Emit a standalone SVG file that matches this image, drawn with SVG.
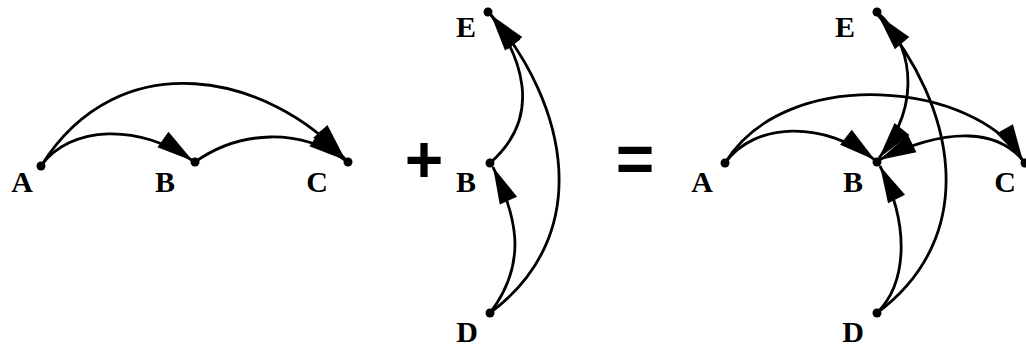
<svg xmlns="http://www.w3.org/2000/svg" width="1026" height="349" viewBox="0 0 1026 349">
<style>
.dot{fill:#000}
.lbl{font-family:"Liberation Serif","Times New Roman",serif;font-weight:bold;font-size:30px;fill:#000;text-anchor:middle}
.op{font-family:"Liberation Sans",Arial,sans-serif;font-weight:bold;font-size:66px;fill:#000;text-anchor:middle}
.edge{fill:none;stroke:#000;stroke-width:2.8;marker-end:url(#arr)}
</style>
<defs>
<marker id="arr" markerUnits="userSpaceOnUse" viewBox="-40 -12 44 24" refX="0" refY="0" markerWidth="44" markerHeight="24" orient="auto">
<path d="M0,0 L-37,-9.5 L-37,9.5 z" fill="#000"/>
</marker>
</defs>
<rect width="1026" height="349" fill="#fff"/>
<g id="connectors">
<path class="edge" d="M41,166 C70,125 140,123 193,161"/>
<path class="edge" d="M41,166 C120,40 270,75 345,159"/>
<path class="edge" d="M195,162 C240,130 300,128 345,160"/>
<path class="edge" d="M490,163 C545,115 520,55 491,15"/>
<path class="edge" d="M490,313 C530,260 515,215 493,167"/>
<path class="edge" d="M490,313 C595,235 568,105 491,15"/>
<path class="edge" d="M725,163 C754,122 824,120 875,160"/>
<path class="edge" d="M725,163 C786,63 978,82 1023,161"/>
<path class="edge" d="M1025,163 C1000,130 950,125 879,160"/>
<path class="edge" d="M877,12 C910,40 925,100 879,158"/>
<path class="edge" d="M877,313 C905,285 912,230 880,166"/>
<path class="edge" d="M877,313 C982,235 955,105 878,15"/>
</g>
<g id="left-A"><circle class="dot" cx="41" cy="166" r="4.5"/><text class="lbl" x="22" y="192">A</text></g>
<g id="left-B"><circle class="dot" cx="195" cy="162" r="4.5"/><text class="lbl" x="165" y="192">B</text></g>
<g id="left-C"><circle class="dot" cx="348" cy="162" r="4.5"/><text class="lbl" x="317" y="192">C</text></g>
<g id="plus"><text class="op" x="424" y="182">+</text></g>
<g id="mid-E"><circle class="dot" cx="488" cy="12" r="4.5"/><text class="lbl" x="466" y="37">E</text></g>
<g id="mid-B"><circle class="dot" cx="490" cy="163" r="4.5"/><text class="lbl" x="466" y="192">B</text></g>
<g id="mid-D"><circle class="dot" cx="490" cy="313" r="4.5"/><text class="lbl" x="467" y="342">D</text></g>
<g id="equals"><text class="op" x="635" y="182">=</text></g>
<g id="right-A"><circle class="dot" cx="725" cy="163" r="4.5"/><text class="lbl" x="702" y="192">A</text></g>
<g id="right-B"><circle class="dot" cx="877" cy="162" r="4.5"/><text class="lbl" x="853" y="192">B</text></g>
<g id="right-C"><circle class="dot" cx="1025" cy="163" r="4.5"/><text class="lbl" x="1005" y="192">C</text></g>
<g id="right-E"><circle class="dot" cx="877" cy="12" r="4.5"/><text class="lbl" x="845" y="37">E</text></g>
<g id="right-D"><circle class="dot" cx="877" cy="313" r="4.5"/><text class="lbl" x="853" y="342">D</text></g>
</svg>
